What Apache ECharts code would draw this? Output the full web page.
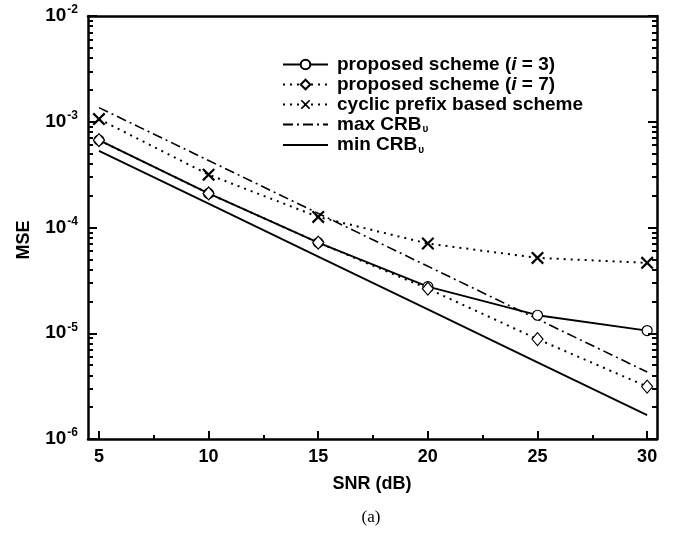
<!DOCTYPE html>
<html>
<head>
<meta charset="utf-8">
<script src="https://cdn.jsdelivr.net/npm/echarts@6/dist/echarts.min.js"></script>
<style>
html,body{margin:0;padding:0;background:#fff;}
#c,#t{position:absolute;left:0;top:0;width:673px;height:537px;}
#t{pointer-events:none;}
</style>
</head>
<body>
<div id="c"></div>
<div id="t"></div>
<script>
// ---- data ----
const snr = [5, 10, 15, 20, 25, 30];
const proposedI3 = [6.7e-4, 2.1e-4, 7.2e-5, 2.76e-5, 1.48e-5, 1.06e-5];
const proposedI7 = [6.7e-4, 2.1e-4, 7.2e-5, 2.64e-5, 8.8e-6, 3.13e-6];
const cyclicPrefix = [1.06e-3, 3.16e-4, 1.26e-4, 7.05e-5, 5.16e-5, 4.63e-5];
const maxCRB = [1.36e-3, 4.3e-4, 1.36e-4, 4.3e-5, 1.36e-5, 4.3e-6];
const minCRB = [5.3e-4, 1.68e-4, 5.3e-5, 1.68e-5, 5.3e-6, 1.68e-6];
const xTicks = [5, 10, 15, 20, 25, 30];
const xMinorTicks = [7.5, 12.5, 17.5, 22.5, 27.5];
const yTicks = [1e-6, 1e-5, 1e-4, 1e-3, 1e-2];
const yMinorTicks = [];
[1e-6, 1e-5, 1e-4, 1e-3].forEach(d => { [2,3,4,5,6,7,8,9].forEach(m => yMinorTicks.push(+(m * d).toPrecision(3))); });
const names = ['proposed scheme (i = 3)', 'proposed scheme (i = 7)', 'cyclic prefix based scheme', 'max CRB', 'min CRB'];

const pair = arr => snr.map((x, k) => [x, arr[k]]);
const FONT = 'Liberation Sans, Arial, sans-serif';
const X_PATH = 'path://M0,1.2 L1.2,0 L5,3.8 L8.8,0 L10,1.2 L6.2,5 L10,8.8 L8.8,10 L5,6.2 L1.2,10 L0,8.8 L3.8,5 Z';
const INK = '#010101';
const rect = { left: 88, right: 16, top: 16, bottom: 98 };
const X_RANGE = { min: 4.5, max: 30.45 };
const Y_RANGE = { min: 1e-6, max: 1e-2 };

const legendFmt = {
  [names[0]]: '{b|proposed scheme (}{i|i}{b| = 3)}',
  [names[1]]: '{b|proposed scheme (}{i|i}{b| = 7)}',
  [names[2]]: '{b|cyclic prefix based scheme}',
  [names[3]]: '{b|max CRB}{sub|υ}',
  [names[4]]: '{b|min CRB}{sub|υ}'
};

// ---------- main chart: frame, labels, legend, series ----------
const lineOn = { show: true, lineStyle: { color: '#000', width: 2.5 } };
const chart = echarts.init(document.getElementById('c'));
chart.setOption({
  animation: false,
  grid: [Object.assign({}, rect), Object.assign({}, rect)],
  xAxis: [
    { gridIndex: 0, type: 'value', min: X_RANGE.min, max: X_RANGE.max, splitLine: { show: false },
      axisLine: lineOn, axisTick: { show: false },
      axisLabel: { customValues: xTicks, color: '#000', fontFamily: FONT, fontWeight: 'bold', fontSize: 18, margin: 9 } },
    { gridIndex: 1, type: 'value', min: X_RANGE.min, max: X_RANGE.max, position: 'top', splitLine: { show: false },
      axisLine: lineOn, axisTick: { show: false }, axisLabel: { show: false } }
  ],
  yAxis: [
    { gridIndex: 0, type: 'log', logBase: 10, min: Y_RANGE.min, max: Y_RANGE.max, splitLine: { show: false },
      axisLine: lineOn, axisTick: { show: false },
      axisLabel: {
        customValues: yTicks, margin: 10,
        formatter: v => '{b|10}{sup|' + Math.round(Math.log10(v)) + '}',
        rich: {
          b: { fontFamily: FONT, fontWeight: 'bold', fontSize: 19, color: '#000' },
          sup: { fontFamily: FONT, fontWeight: 'bold', fontSize: 12, color: '#000', padding: [0, 0, 12, 1] }
        }
      } },
    { gridIndex: 1, type: 'log', logBase: 10, min: Y_RANGE.min, max: Y_RANGE.max, position: 'right', splitLine: { show: false },
      axisLine: lineOn, axisTick: { show: false }, axisLabel: { show: false } }
  ],
  legend: {
    orient: 'vertical', left: 277, top: 50,
    itemWidth: 45, itemHeight: 12, itemGap: 1,
    data: names,
    formatter: n => legendFmt[n],
    textStyle: {
      padding: [0, 0, 0, 4],
      rich: {
        b: { fontFamily: FONT, fontWeight: 'bold', fontSize: 19, color: '#000', lineHeight: 18 },
        i: { fontFamily: FONT, fontWeight: 'bold', fontStyle: 'italic', fontSize: 19, color: '#000', lineHeight: 18 },
        sub: { fontFamily: FONT, fontWeight: 'bold', fontSize: 10, color: '#000', padding: [10, 0, 0, 1] }
      }
    }
  },
  series: [
    { name: names[0], type: 'line', data: pair(proposedI3), xAxisIndex: 0, yAxisIndex: 0,
      symbol: 'circle', symbolSize: 10,
      itemStyle: { color: '#fff', borderColor: '#000', borderWidth: 1.2 },
      lineStyle: { color: '#000', width: 1.8, type: 'solid' }, z: 3 },
    { name: names[1], type: 'line', data: pair(proposedI7), xAxisIndex: 0, yAxisIndex: 0,
      symbol: 'diamond', symbolSize: [11, 13],
      itemStyle: { color: '#fff', borderColor: '#000', borderWidth: 1.2 },
      lineStyle: { color: '#000', width: 2, type: [2, 5] }, z: 4 },
    { name: names[2], type: 'line', data: pair(cyclicPrefix), xAxisIndex: 0, yAxisIndex: 0,
      symbol: X_PATH, symbolSize: 13,
      itemStyle: { color: '#000', borderColor: '#000', borderWidth: 0 },
      lineStyle: { color: '#000', width: 2, type: [2, 5] }, z: 4 },
    { name: names[3], type: 'line', data: pair(maxCRB), xAxisIndex: 0, yAxisIndex: 0,
      symbol: 'none', itemStyle: { color: '#000', opacity: 0 },
      lineStyle: { color: '#000', width: 1.6, type: [10, 4, 2, 4], opacity: 1 } },
    { name: names[4], type: 'line', data: pair(minCRB), xAxisIndex: 0, yAxisIndex: 0,
      symbol: 'none', itemStyle: { color: '#000', opacity: 0 },
      lineStyle: { color: '#000', width: 1.8, type: 'solid', opacity: 1 } }
  ],
  graphic: [
    { type: 'text', x: 24, y: 240, rotation: Math.PI / 2,
      style: { text: 'MSE', font: 'bold 18px ' + FONT, fill: '#000', align: 'center', verticalAlign: 'middle' } },
    { type: 'text', x: 372, y: 484,
      style: { text: 'SNR (dB)', font: 'bold 18px ' + FONT, fill: '#000', align: 'center', verticalAlign: 'middle' } },
    { type: 'text', x: 371, y: 518,
      style: { text: '(a)', font: '17px Liberation Serif, serif', fill: '#000', align: 'center', verticalAlign: 'middle' } }
  ]
});

// ---------- tick layer: inward major / minor ticks on the same scales ----------
const tk = (len, vals) => ({ show: true, inside: true, length: len, lineStyle: { color: INK, width: 2 }, customValues: vals });
const noTk = { show: false };
const tx = (g, vals, len, pos) => {
  const a = { gridIndex: g, type: 'value', min: X_RANGE.min, max: X_RANGE.max,
    axisLine: { show: false }, splitLine: { show: false }, axisLabel: { show: false },
    axisTick: vals ? tk(len, vals) : noTk };
  if (pos) a.position = pos;
  return a;
};
const ty = (g, vals, len, pos) => {
  const a = { gridIndex: g, type: 'log', min: Y_RANGE.min, max: Y_RANGE.max,
    axisLine: { show: false }, splitLine: { show: false }, axisLabel: { show: false },
    axisTick: vals ? tk(len, vals) : noTk };
  if (pos) a.position = pos;
  return a;
};
const ghost = (g, arr) => ({ type: 'line', xAxisIndex: g, yAxisIndex: g, data: pair(arr), symbol: 'none',
  silent: true, lineStyle: { color: 'rgba(0,0,0,0)', width: 0 } });

const ticks = echarts.init(document.getElementById('t'));
ticks.setOption({
  animation: false,
  grid: [Object.assign({}, rect), Object.assign({}, rect), Object.assign({}, rect), Object.assign({}, rect)],
  xAxis: [tx(0, xTicks, 8), tx(1, xMinorTicks, 4), tx(2, null, 0), tx(3, null, 0)],
  yAxis: [ty(0, yTicks, 9), ty(1, yMinorTicks, 5), ty(2, yTicks, 9, 'right'), ty(3, yMinorTicks, 5, 'right')],
  series: [ghost(0, minCRB), ghost(1, minCRB), ghost(2, minCRB), ghost(3, minCRB)]
});
</script>
</body>
</html>
